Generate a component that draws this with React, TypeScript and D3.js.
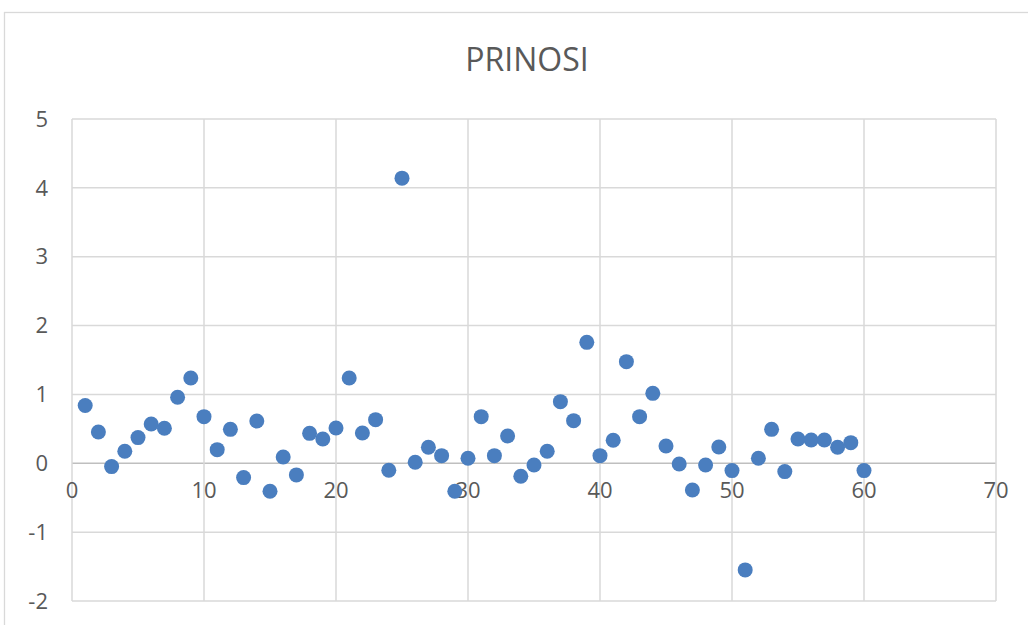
import React from "react";
import * as d3 from "d3";

const xValues: number[] = Array.from({ length: 60 }, (_, i) => i + 1);
const yValues: number[] = [
  0.84, 0.455, -0.048, 0.174, 0.373, 0.571, 0.508, 0.958, 1.238, 0.677,
  0.198, 0.493, -0.208, 0.614, -0.406, 0.092, -0.169, 0.435, 0.353, 0.513,
  1.238, 0.44, 0.634, -0.102, 4.141, 0.015, 0.232, 0.111, -0.406, 0.073,
  0.677, 0.111, 0.397, -0.189, -0.024, 0.174, 0.895, 0.619, 1.756, 0.111,
  0.334, 1.476, 0.677, 1.016, 0.252, -0.01, -0.387, -0.024, 0.237, -0.106,
  -1.548, 0.073, 0.493, -0.121, 0.353, 0.339, 0.339, 0.232, 0.3, -0.106,
];
const xTicks: number[] = [0, 10, 20, 30, 40, 50, 60, 70];
const yTicks: number[] = [-2, -1, 0, 1, 2, 3, 4, 5];
const title = "PRINOSI";

const W = 1028;
const H = 625;
const left = 72;
const right = 996;
const top = 119;
const bottom = 601;
const font = "'Open Sans', 'Liberation Sans', sans-serif";

export default function App() {
  const x = d3.scaleLinear().domain([0, 70]).range([left, right]);
  const y = d3.scaleLinear().domain([-2, 5]).range([bottom, top]);
  const grid = "#d9d9d9";
  const text = "#595959";
  return (
    <svg
      width={W}
      height={H}
      style={{ position: "absolute", left: 0, top: 0, background: "#fff" }}
    >
      <rect x={4.5} y={12.5} width={W + 20} height={H + 20} fill="#fff" stroke="#d9d9d9" strokeWidth={1.3} />
      <text x={527} y={71} textAnchor="middle" fontFamily={font} fontSize={32} fill={text}>
        {title}
      </text>
      {yTicks.map((t) => (
        <line key={"gy" + t} x1={left} x2={right} y1={y(t)} y2={y(t)} stroke={t === 0 ? "#bfbfbf" : grid} strokeWidth={1.5} />
      ))}
      {xTicks.map((t) => (
        <line key={"gx" + t} x1={x(t)} x2={x(t)} y1={top} y2={bottom} stroke={grid} strokeWidth={1.5} />
      ))}
      {yTicks.map((t) => (
        <text key={"ty" + t} x={48} y={y(t)} dy="0.35em" textAnchor="end" fontFamily={font} fontSize={22} fill={text}>
          {t}
        </text>
      ))}
      {xTicks.map((t) => (
        <text key={"tx" + t} x={x(t)} y={y(0) + 35} textAnchor="middle" fontFamily={font} fontSize={22} fill={text}>
          {t}
        </text>
      ))}
      {xValues.map((xv, i) => (
        <circle key={"p" + i} cx={x(xv)} cy={y(yValues[i])} r={7.5} fill="#4a7ebf" />
      ))}
    </svg>
  );
}
